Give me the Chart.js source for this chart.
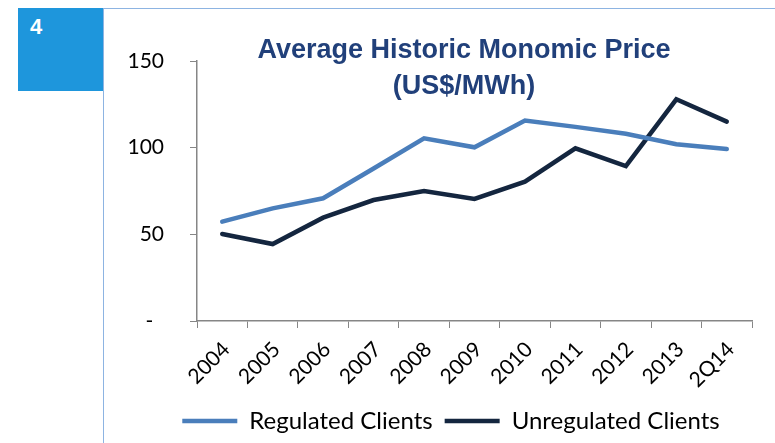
<!DOCTYPE html>
<html>
<head>
<meta charset="utf-8">
<script src="https://cdn.jsdelivr.net/npm/chart.js@4.4.0/dist/chart.umd.min.js"></script>
<style>
  body { margin: 0; background: #fff; }
  #wrap { position: relative; width: 775px; height: 443px; overflow: hidden; }
  #badge { position: absolute; left: 18px; top: 8px; width: 85px; height: 83px; background: #1E96DC; }
  #badge span { position: absolute; left: 12px; top: 6px; color: #fff; font: bold 22px 'Liberation Sans Narrow', 'Liberation Sans', Arial, sans-serif; }
  #lineTop { position: absolute; left: 103px; top: 8px; width: 672px; height: 1px; background: #8DB4E2; }
  #lineLeft { position: absolute; left: 103px; top: 8px; width: 1px; height: 435px; background: #8DB4E2; }
  #title { position: absolute; left: 214px; width: 500px; top: 31px; text-align: center; color: #21407A;
           font: bold 27px/36px 'Liberation Sans Narrow', 'Liberation Sans', Arial, sans-serif; z-index: 2; }
  canvas { position: absolute; left: 0; top: 0; }
</style>
</head>
<body>
<div id="wrap">
  <canvas id="chart" width="775" height="443"></canvas>
  <div id="badge"><span>4</span></div>
  <div id="lineTop"></div>
  <div id="lineLeft"></div>
  <div id="title">Average Historic Monomic Price<br>(US$/MWh)</div>
</div>
<script>
// datos
const years = ['2004', '2005', '2006', '2007', '2008', '2009', '2010', '2011', '2012', '2013', '2Q14'];
const regulated = [57.3, 65, 70.8, 88, 105.4, 100.2, 115.6, 112, 108, 102, 99.2];
const unregulated = [50.2, 44.4, 59.6, 69.8, 75, 70.4, 80.4, 99.6, 89.4, 127.9, 115];
const yTicks = [0, 50, 100, 150];

const tickFont = { family: 'Lato, Carlito, sans-serif', size: 21 };
const legendFont = { family: 'Lato, Carlito, sans-serif', size: 24 };

// la leyenda del original no está centrada en el lienzo: la corro a la derecha
const shiftLegend = {
    id: 'shiftLegend',
    afterLayout(chart) {
        const dx = 75;
        chart.legend.left += dx;
        chart.legend.right += dx;
    }
};

new Chart(document.getElementById('chart'), {
    type: 'line',
    data: {
        labels: years,
        datasets: [
            {
                label: 'Regulated Clients',
                data: regulated,
                borderColor: '#4A7EBB',
                backgroundColor: '#4A7EBB',
                borderWidth: 4.5,
                borderCapStyle: 'round',
                pointRadius: 0,
                tension: 0
            },
            {
                label: 'Unregulated Clients',
                data: unregulated,
                borderColor: '#14263F',
                backgroundColor: '#14263F',
                borderWidth: 4.5,
                borderCapStyle: 'round',
                pointRadius: 0,
                tension: 0
            }
        ]
    },
    options: {
        responsive: false,
        animation: false,
        layout: { padding: { top: 61, right: 23, left: 0, bottom: 0 } },
        plugins: {
            title: { display: false },
            tooltip: { enabled: false },
            legend: {
                position: 'bottom',
                labels: {
                    usePointStyle: true,
                    pointStyle: 'line',
                    pointStyleWidth: 55,
                    padding: 12,
                    color: '#000',
                    font: legendFont
                }
            }
        },
        scales: {
            x: {
                offset: true,
                grid: { offset: true, drawOnChartArea: false, color: '#868686', tickLength: 7 },
                border: { color: '#868686', width: 1.5 },
                ticks: { minRotation: 45, maxRotation: 45, autoSkip: false, padding: 9, labelOffset: 4, color: '#000', font: tickFont },
                afterFit: (scale) => { scale.height = 76; }
            },
            y: {
                min: 0,
                max: 150,
                afterBuildTicks: (scale) => { scale.ticks = yTicks.map(v => ({ value: v })); },
                grid: { drawOnChartArea: false, color: '#868686', tickLength: 7 },
                border: { color: '#868686', width: 1.5 },
                ticks: {
                    padding: 26,
                    color: '#000',
                    font: tickFont,
                    callback: (v) => v === 0 ? '-  ' : v
                },
                afterFit: (scale) => { scale.width = 197; }
            }
        }
    },
    plugins: [shiftLegend]
});
</script>
</body>
</html>
